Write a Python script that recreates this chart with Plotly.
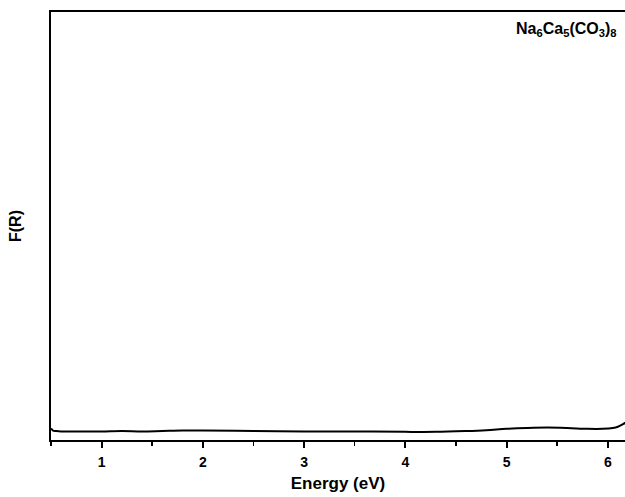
import plotly.graph_objects as go

energy = [0.5, 0.52, 0.55, 0.6, 0.8, 1.0, 1.2, 1.4, 1.6, 1.8, 2.0, 2.5, 3.0, 3.5,
          4.0, 4.3, 4.6, 4.8, 5.0, 5.2, 5.4, 5.6, 5.8, 5.95, 6.05, 6.1, 6.15, 6.2]
f_r = [0.027, 0.022, 0.021, 0.020, 0.020, 0.020, 0.021, 0.020, 0.021, 0.022, 0.022,
       0.021, 0.020, 0.020, 0.019, 0.019, 0.021, 0.023, 0.026, 0.028, 0.029, 0.028,
       0.026, 0.026, 0.028, 0.031, 0.037, 0.044]
x_ticks = [1, 2, 3, 4, 5, 6]
label = "Na<sub>6</sub>Ca<sub>5</sub>(CO<sub>3</sub>)<sub>8</sub>"

fig = go.Figure()
fig.add_trace(go.Scatter(x=energy, y=f_r, mode="lines",
                         line=dict(color="black", width=2, shape="spline"),
                         showlegend=False, hoverinfo="skip"))

font = "Liberation Sans, Arial, sans-serif"
fig.update_layout(
    width=625, height=497,
    margin=dict(l=51, r=0, t=12, b=57, autoexpand=False),
    paper_bgcolor="white", plot_bgcolor="white",
    font=dict(family=font, color="black"),
    xaxis=dict(range=[0.5, 6.17], tickvals=x_ticks, ticktext=[f"<b>{v}</b>" for v in x_ticks],
               ticks="outside", ticklen=6, tickwidth=2, tickcolor="black",
               ticklabelstandoff=2,
               minor=dict(dtick=0.5, tick0=0.5, ticks="outside", ticklen=4, tickwidth=1.5, tickcolor="black"),
               showline=True, linewidth=2, linecolor="black", mirror=True,
               showgrid=False, zeroline=False, automargin=False,
               tickfont=dict(size=14, family=font),
               title=dict(text="<b>Energy (eV)</b>", font=dict(size=17, family=font), standoff=8)),
    yaxis=dict(range=[0, 1], showticklabels=False, ticks="",
               showline=True, linewidth=2, linecolor="black", mirror=False,
               showgrid=False, zeroline=False, automargin=False,
               title=dict(text="<b>F(R)</b>", font=dict(size=16, family=font), standoff=23)),
    annotations=[dict(text=f"<b>{label}</b>", x=0.99, y=0.985, xref="paper", yref="paper",
                      xanchor="right", yanchor="top", showarrow=False,
                      font=dict(size=16, family=font))],
)

fig.write_html("out.html", config={"displayModeBar": False, "staticPlot": True})
with open("out.html", "r", encoding="utf-8") as fh:
    html = fh.read()
html = html.replace("<head>", "<head><style>html,body{margin:0;padding:0;overflow:hidden;}</style>", 1)
with open("out.html", "w", encoding="utf-8") as fh:
    fh.write(html)
